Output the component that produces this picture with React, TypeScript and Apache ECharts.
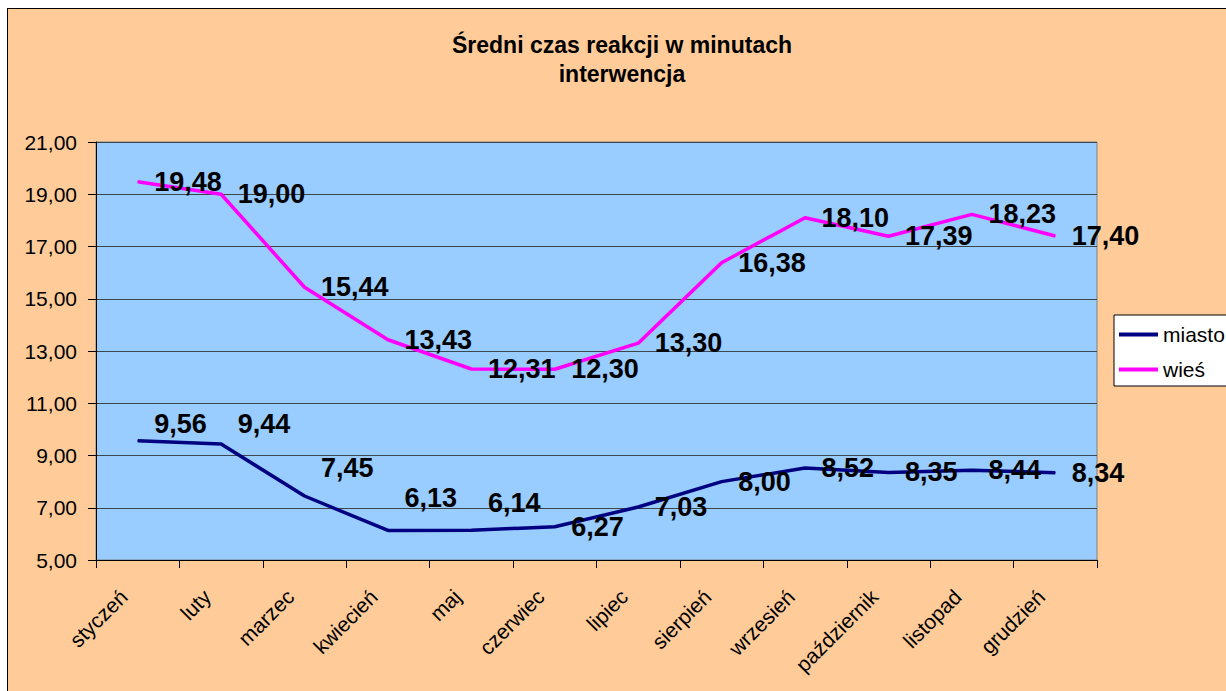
import React, { useEffect, useRef } from "react";
import * as echarts from "echarts";

const months = [
  "styczeń", "luty", "marzec", "kwiecień", "maj", "czerwiec",
  "lipiec", "sierpień", "wrzesień", "październik", "listopad", "grudzień",
];
const miasto = [9.56, 9.44, 7.45, 6.13, 6.14, 6.27, 7.03, 8.0, 8.52, 8.35, 8.44, 8.34];
const wies = [19.48, 19.0, 15.44, 13.43, 12.31, 12.3, 13.3, 16.38, 18.1, 17.39, 18.23, 17.4];
const seriesNames = ["miasto", "wieś"];
const titleLines = ["Średni czas reakcji w minutach", "interwencja"];
const yMin = 5;
const yMax = 21;
const yStep = 2;

// label layout tweaks (vertical lift of the first miasto labels)
const miastoLabelLift = [-17, -20, -28, -32, -27];

const FONT = '"Liberation Sans", Arial, sans-serif';
const fmt = (v: number) => v.toFixed(2).replace(".", ",");

export default function App() {
  const ref = useRef<HTMLDivElement>(null);
  useEffect(() => {
    if (!ref.current) return;
    const chart = echarts.init(ref.current, undefined, { renderer: "svg" });
    const labelBase = {
      show: true,
      position: "right",
      distance: 16,
      color: "#000",
      fontFamily: FONT,
      fontWeight: "bold",
      fontSize: 27,
      formatter: (p: any) => fmt(p.value),
    };
    chart.setOption({
      animation: false,
      backgroundColor: "#FFCC99",
      title: {
        text: titleLines.join("\n"),
        left: 614,
        textAlign: "center",
        top: 21,
        padding: 0,
        textStyle: {
          fontFamily: FONT,
          fontWeight: "bold",
          fontSize: 23,
          lineHeight: 29,
          color: "#000",
        },
      },
      legend: {
        data: seriesNames.map((n) => ({ name: n, icon: "rect" })),
        orient: "vertical",
        left: 1106,
        top: 306,
        padding: [9, 40, 6, 5],
        itemGap: 14,
        itemWidth: 39,
        itemHeight: 4,
        backgroundColor: "#fff",
        borderColor: "#000",
        borderWidth: 1,
        borderRadius: 0,
        textStyle: {
          fontFamily: FONT,
          fontSize: 21,
          lineHeight: 20,
          color: "#000",
        },
      },
      grid: {
        left: 88,
        top: 133,
        width: 1001,
        height: 418,
        show: true,
        backgroundColor: "#99CCFF",
        borderColor: "#808080",
        borderWidth: 1,
      },
      xAxis: {
        type: "category",
        data: months,
        boundaryGap: true,
        axisLine: { show: true, lineStyle: { color: "#000", width: 1 } },
        axisTick: { show: true, length: 8, lineStyle: { color: "#000" } },
        axisLabel: {
          rotate: 45,
          interval: 0,
          margin: 19,
          padding: [0, 20, 0, 0],
          color: "#000",
          fontFamily: FONT,
          fontSize: 21,
        },
        splitLine: { show: false },
      },
      yAxis: {
        type: "value",
        min: yMin,
        max: yMax,
        interval: yStep,
        axisLine: { show: true, lineStyle: { color: "#000", width: 1 } },
        axisTick: { show: true, length: 8, lineStyle: { color: "#000" } },
        axisLabel: {
          margin: 19,
          color: "#000",
          fontFamily: FONT,
          fontSize: 21,
          formatter: (v: number) => fmt(v),
        },
        splitLine: { show: true, lineStyle: { color: "#3a4650", width: 1 } },
      },
      series: [
        {
          name: seriesNames[0],
          type: "line",
          data: miasto.map((v, i) =>
            i < miastoLabelLift.length
              ? { value: v, label: { offset: [0, miastoLabelLift[i]] } }
              : v
          ),
          symbol: "circle",
          symbolSize: 1,
          showSymbol: true,
          lineStyle: { color: "#000080", width: 3.5 },
          itemStyle: { color: "#000080" },
          label: labelBase,
          z: 3,
        },
        {
          name: seriesNames[1],
          type: "line",
          data: wies,
          symbol: "circle",
          symbolSize: 1,
          showSymbol: true,
          lineStyle: { color: "#FF00FF", width: 3.5 },
          itemStyle: { color: "#FF00FF" },
          label: labelBase,
          z: 3,
        },
      ],
    });
    return () => chart.dispose();
  }, []);
  return (
    <div
      style={{
        position: "fixed",
        left: 7,
        top: 8,
        width: 1219,
        height: 683,
        borderLeft: "1px solid #000",
        borderTop: "1px solid #000",
        overflow: "hidden",
        background: "#FFCC99",
      }}
    >
      <div ref={ref} style={{ width: 1218, height: 682 }} />
    </div>
  );
}
